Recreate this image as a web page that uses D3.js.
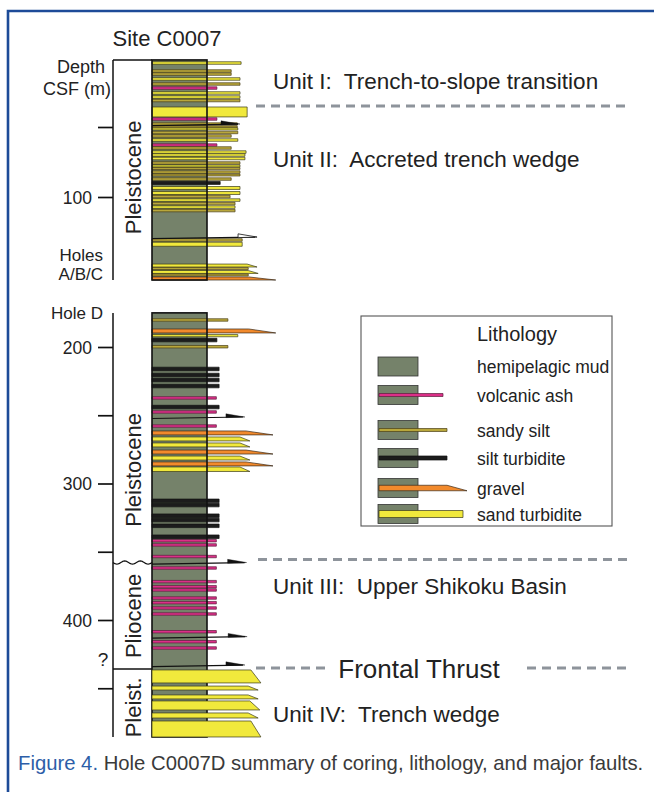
<!DOCTYPE html>
<html lang="en">
<head>
<meta charset="utf-8">
<title>Site C0007</title>
<script src="https://cdn.jsdelivr.net/npm/d3@7"></script>
<style>
  body { margin: 0; background: #fff; }
  svg { display: block; font-family: "Liberation Sans", Arial, sans-serif; }
  text { white-space: pre; }
</style>
</head>
<body>
<script>

  var W = 654, H = 792;

  // depth ticks (m CSF), labelled every 100 m
  var ticksABC = [50, 100];
  var ticksD = [200, 250, 300, 350, 400, 450];

  // cored intervals [top, bottom] in m CSF
  var rangeABC = [2.1, 159.3];
  var rangeD = [175, 485.7];

  // beds: [top depth (m), thickness (m), lithology, reach (in mud-column widths)]
  var bedsABC = [
    [3.4, 1.8, "sand", 1.62],
    [9.1, 1.8, "sandySilt", 1.44],
    [11.3, 1.8, "sandySilt", 1.44],
    [14.8, 1.8, "sand", 1.6],
    [18.4, 1.8, "sandySilt", 1.6],
    [21.3, 1.8, "ash", 1.18],
    [24.8, 1.8, "sand", 1.6],
    [27.7, 1.8, "sand", 1.6],
    [30.2, 1.8, "sandySilt", 1.6],
    [35.7, 7.1, "sand", 1.73],
    [43.4, 1.8, "ash", 1.18],
    [47.0, 1.8, "sandySilt", 1.55],
    [49.3, 1.4, "sandySilt", 1.55],
    [50.7, 1.4, "sand", 1.56],
    [53.0, 1.8, "sandySilt", 1.56],
    [55.5, 1.8, "sandySilt", 1.44],
    [58.4, 1.8, "sand", 1.56],
    [62.0, 1.8, "ash", 1.18],
    [64.1, 1.8, "sandySilt", 1.44],
    [67.0, 1.8, "sand", 1.71],
    [69.1, 1.8, "sand", 1.69],
    [71.6, 1.8, "sand", 1.69],
    [74.8, 1.8, "sandySilt", 1.6],
    [77.1, 1.4, "sand", 1.6],
    [78.9, 1.4, "sandySilt", 1.6],
    [81.3, 1.8, "sandySilt", 1.6],
    [83.6, 1.4, "sandySilt", 1.6],
    [86.3, 1.8, "sandySilt", 1.44],
    [88.9, 2.1, "siltTurb", 1.24],
    [92.5, 2.1, "sand", 1.6],
    [96.1, 2.1, "sand", 1.6],
    [98.8, 1.8, "sandySilt", 1.42],
    [101.3, 1.8, "sand", 1.6],
    [103.8, 1.8, "sandySilt", 1.51],
    [106.3, 1.8, "sand", 1.51],
    [108.8, 1.8, "sandySilt", 1.51],
    [129.8, 1.8, "sandySilt", 1.64],
    [132.3, 2.9, "sand", 1.64],
    [147.9, 2.1, "sandPinch", 1.91],
    [150.4, 1.4, "sandySilt", 1.75],
    [152.5, 2.1, "sandPinch", 1.93],
    [155.0, 1.4, "sandySilt", 1.75],
    [157.1, 2.2, "gravel", 2.25]
  ];

  var bedsD = [
    [179.3, 1.8, "sandySilt", 1.38],
    [186.8, 2.9, "gravel", 2.25],
    [190.9, 1.6, "sand", 1.56],
    [193.6, 2.6, "siltTurb", 1.18],
    [198.9, 1.8, "sandySilt", 1.38],
    [214.8, 2.6, "siltTurb", 1.22],
    [219.2, 2.6, "siltTurb", 1.22],
    [222.9, 2.6, "siltTurb", 1.22],
    [227.3, 2.6, "siltTurb", 1.22],
    [236.4, 1.8, "ash", 1.17],
    [242.7, 2.6, "siltTurb", 1.22],
    [246.7, 1.8, "ash", 1.17],
    [257.0, 1.8, "ash", 1.17],
    [261.5, 2.9, "gravel", 2.2],
    [265.9, 2.9, "sandPinch", 1.78],
    [270.3, 2.9, "sandPinch", 1.78],
    [275.5, 2.9, "gravel", 2.2],
    [279.9, 2.9, "sandPinch", 1.78],
    [284.2, 2.9, "gravel", 2.2],
    [287.9, 3.3, "sandPinch", 1.78],
    [311.4, 2.6, "siltTurb", 1.22],
    [314.5, 2.6, "siltTurb", 1.22],
    [322.3, 2.6, "siltTurb", 1.22],
    [325.5, 2.6, "siltTurb", 1.22],
    [329.7, 2.6, "siltTurb", 1.22],
    [337.7, 2.6, "siltTurb", 1.22],
    [341.0, 1.8, "ash", 1.17],
    [344.1, 1.8, "ash", 1.17],
    [352.6, 1.8, "ash", 1.17],
    [361.0, 1.8, "ash", 1.17],
    [371.0, 1.8, "ash", 1.17],
    [374.7, 1.8, "ash", 1.17],
    [377.1, 1.8, "ash", 1.17],
    [383.0, 1.8, "ash", 1.17],
    [386.4, 1.8, "ash", 1.17],
    [390.3, 1.8, "ash", 1.17],
    [394.7, 1.8, "ash", 1.17],
    [407.7, 1.8, "ash", 1.17],
    [415.0, 1.8, "ash", 1.17],
    [419.6, 1.8, "ash", 1.17],
    [436.6, 9.5, "sandPinch", 1.98],
    [448.4, 2.9, "sandPinch", 1.93],
    [454.9, 2.9, "sandPinch", 1.93],
    [459.3, 6.6, "sandPinch", 1.96],
    [468.1, 3.7, "sandPinch", 1.93],
    [474.0, 11.7, "sandPinch", 1.98]
  ];

  // faults: [depth (m), reach of arrow tip]
  var faultsABC = [[47.9, 1.6], [128.6, 1.91]];
  var faultsD = [[251.3, 1.69], [357.9, 1.72], [412.2, 1.73], [433.0, 1.69]];

  // ages: [name, top, bottom, label depth, upper contact]
  var agesABC = [["Pleistocene", 2.1, 159.3, 86, "top"]];
  var agesD = [
    ["Pleistocene", 175, 357.9, 290, "none"],
    ["Pliocene", 357.9, 435.9, 397, "wavy"],
    ["Pleist.", 435.9, 485.7, 464, "query"]
  ];

  // lithologic units: [label, depth of label baseline, log]
  var unitLabels = [
    ["Unit I:  Trench-to-slope transition", 22.9, "ABC"],
    ["Unit II:  Accreted trench wedge", 78.6, "ABC"],
    ["Unit III:  Upper Shikoku Basin", 381, "D"],
    ["Unit IV:  Trench wedge", 474.5, "D"]
  ];
  // unit boundaries (m)
  var boundaryABC = 35;
  var boundaryD = 355.7;
  var frontalThrust = 435.2;

  var legendNames = ["hemipelagic mud", "volcanic ash", "sandy silt", "silt turbidite", "gravel", "sand turbidite"];
  var legendTypes = ["mud", "ash", "sandySilt", "siltTurb", "gravel", "sand"];

  var fills = {
    mud: "#75826a", ash: "#dc2f88", sandySilt: "#b9a73b", siltTurb: "#1c1c1c",
    gravel: "#f28a2c", sand: "#f1e93c", sandPinch: "#f1e93c"
  };
  var strokes = {
    mud: "#333", ash: "#5a1f3c", sandySilt: "#4a3f17", siltTurb: "#111",
    gravel: "#3a2a1a", sand: "#3a3a1a", sandPinch: "#3a3a1a"
  };
  var ink = "#222";

  var svg = d3.select("body")
    .append("svg")
    .attr("width", W)
    .attr("height", H);

  // blue frame (top and left)
  svg.append("path")
    .attr("d", "M8," + H + " V11 H" + W)
    .attr("fill", "none")
    .attr("stroke", "#1d4b98")
    .attr("stroke-width", 2.6);

  var yABC = d3.scaleLinear().domain([0, 150]).range([57, 267]);
  var yD = d3.scaleLinear().domain([200, 400]).range([347, 620]);
  var xr = d3.scaleLinear().domain([0, 1]).range([152, 207]);
  var ageX = 113;

  function bedPath(b, y) {
    var t = y(b[0]);
    var h = Math.max(y(b[0] + b[1]) - t, 1.4);
    var bt = t + h, x0 = xr(0), xe = xr(b[3]);
    if (b[2] === "gravel") return "M" + x0 + "," + t + "H" + (xe - 27) + "L" + xe + "," + bt + "H" + x0 + "Z";
    if (b[2] === "sandPinch") return "M" + x0 + "," + t + "H" + (xe - 10) + "L" + xe + "," + bt + "H" + x0 + "Z";
    return "M" + x0 + "," + t + "H" + xe + "V" + bt + "H" + x0 + "Z";
  }

  function drawLog(y, range, beds, faults, ages, ticks) {
    var g = svg.append("g");
    var top = y(range[0]), bot = y(range[1]);

    g.append("rect")
      .attr("x", xr(0)).attr("y", top)
      .attr("width", xr(1) - xr(0)).attr("height", bot - top)
      .attr("fill", fills.mud);

    function addBeds(list) {
      g.selectAll(null)
        .data(list)
        .enter().append("path")
        .attr("d", function(b) { return bedPath(b, y); })
        .attr("fill", function(b) { return fills[b[2]]; })
        .attr("stroke", function(b) { return strokes[b[2]]; })
        .attr("stroke-width", 0.7);
    }

    addBeds(beds.filter(function(b) { return b[0] < frontalThrust; }));

    // column outline
    g.append("rect")
      .attr("x", xr(0)).attr("y", top)
      .attr("width", xr(1) - xr(0)).attr("height", bot - top)
      .attr("fill", "none").attr("stroke", "#111").attr("stroke-width", 1.6);

    // trench wedge sands drawn over the outline
    addBeds(beds.filter(function(b) { return b[0] >= frontalThrust; }));

    // faults
    faults.forEach(function(f, i) {
      var fy = y(f[0]), tip = xr(f[1]);
      var open = (y === yABC && i === faults.length - 1);
      g.append("line")
        .attr("x1", xr(0)).attr("y1", fy + 1.5)
        .attr("x2", tip - 2).attr("y2", fy)
        .attr("stroke", "#111").attr("stroke-width", 1.2);
      g.append("path")
        .attr("d", "M" + (tip - 19) + "," + (fy - 3.2) + "L" + tip + "," + fy + "L" + (tip - 19) + "," + (fy + 0.6) + "Z")
        .attr("fill", open ? "#fff" : "#111")
        .attr("stroke", "#111").attr("stroke-width", open ? 0.8 : 0.4);
    });

    // depth axis
    var axis = d3.axisLeft(y)
      .tickValues(ticks)
      .tickSize(15)
      .tickPadding(6)
      .tickFormat(function(d) { return d % 100 === 0 ? d : ""; });
    var ag = g.append("g")
      .attr("transform", "translate(" + ageX + ",0)")
      .call(axis);
    ag.select(".domain").remove();
    ag.selectAll(".tick line").attr("stroke", "#111").attr("stroke-width", 1.7);
    ag.selectAll(".tick text")
      .attr("font-family", "Liberation Sans, Arial, sans-serif")
      .attr("font-size", 17.5)
      .attr("fill", ink)
      .attr("dy", "0.36em");

    g.append("line")
      .attr("x1", ageX).attr("x2", ageX)
      .attr("y1", top).attr("y2", bot)
      .attr("stroke", "#111").attr("stroke-width", 1.5);

    // ages
    ages.forEach(function(a) {
      var ty = y(a[1]);
      if (a[4] === "top" || a[4] === "query") {
        g.append("line")
          .attr("x1", ageX).attr("x2", xr(0))
          .attr("y1", ty).attr("y2", ty)
          .attr("stroke", "#111").attr("stroke-width", 1.5);
      }
      if (a[4] === "query") {
        g.append("text")
          .attr("x", ageX - 10).attr("y", ty - 3)
          .attr("text-anchor", "middle")
          .attr("font-size", 19).attr("fill", ink)
          .text("?");
      }
      if (a[4] === "wavy") {
        var pts = d3.range(0, 41).map(function(i) {
          return [ageX + (xr(0) - ageX) * i / 40, ty + 1.6 * Math.sin(i / 40 * Math.PI * 5)];
        });
        g.append("path")
          .attr("d", d3.line()(pts))
          .attr("fill", "none").attr("stroke", "#111").attr("stroke-width", 1.2);
      }
      g.append("text")
        .attr("transform", "translate(" + (ageX + 20.5) + "," + y(a[3]) + ") rotate(-90)")
        .attr("text-anchor", "middle")
        .attr("dominant-baseline", "central")
        .attr("font-size", 22).attr("fill", ink)
        .text(a[0]);
    });
  }

  drawLog(yABC, rangeABC, bedsABC, faultsABC, agesABC, ticksABC);
  drawLog(yD, rangeD, bedsD, faultsD, agesD, ticksD);

  // headers
  svg.append("text").attr("x", 167).attr("y", 46).attr("text-anchor", "middle")
    .attr("font-size", 22).attr("fill", ink).text("Site C0007");
  svg.append("text").attr("x", 105).attr("y", 73).attr("text-anchor", "end")
    .attr("font-size", 18).attr("fill", ink).text("Depth");
  svg.append("text").attr("x", 111).attr("y", 95).attr("text-anchor", "end")
    .attr("font-size", 18).attr("fill", ink).text("CSF (m)");
  svg.append("text").attr("x", 103).attr("y", 261).attr("text-anchor", "end")
    .attr("font-size", 17).attr("fill", ink).text("Holes");
  svg.append("text").attr("x", 103).attr("y", 280).attr("text-anchor", "end")
    .attr("font-size", 17).attr("fill", ink).text("A/B/C");
  svg.append("text").attr("x", 103).attr("y", 319).attr("text-anchor", "end")
    .attr("font-size", 17).attr("fill", ink).text("Hole D");

  // unit boundaries
  function dashed(x1, x2, yy) {
    svg.append("line")
      .attr("x1", x1).attr("x2", x2).attr("y1", yy).attr("y2", yy)
      .attr("stroke", "#8e949b").attr("stroke-width", 3)
      .attr("stroke-dasharray", "9,6");
  }
  dashed(256, 628, yABC(boundaryABC));
  dashed(258, 628, yD(boundaryD));
  dashed(256, 331, yD(frontalThrust));
  dashed(527, 628, yD(frontalThrust));

  svg.append("text")
    .attr("x", 419).attr("y", yD(frontalThrust) + 9.5)
    .attr("text-anchor", "middle")
    .attr("font-size", 26).attr("fill", ink)
    .text("Frontal Thrust");

  svg.selectAll(".unit")
    .data(unitLabels)
    .enter().append("text")
    .attr("class", "unit")
    .attr("x", 273)
    .attr("y", function(d) { return (d[2] === "ABC" ? yABC : yD)(d[1]); })
    .attr("font-size", 22.5).attr("fill", ink)
    .text(function(d) { return d[0]; });

  // legend
  var lg = svg.append("g");
  lg.append("rect")
    .attr("x", 361).attr("y", 316).attr("width", 251).attr("height", 210)
    .attr("fill", "#fff").attr("stroke", "#555").attr("stroke-width", 1.1);
  lg.append("text").attr("x", 477).attr("y", 341)
    .attr("font-size", 20).attr("fill", ink).text("Lithology");

  var rowY = d3.scaleOrdinal().domain(legendTypes).range([366.5, 395, 430, 458, 488, 514]);
  var reachL = {ash: 443, sandySilt: 447, siltTurb: 447, gravel: 467, sand: 463};
  var barH = {ash: 3, sandySilt: 3, siltTurb: 4, gravel: 5.5, sand: 7};

  legendTypes.forEach(function(t, i) {
    var cy = rowY(t);
    lg.append("rect")
      .attr("x", 378).attr("y", cy - 9.5).attr("width", 40).attr("height", 19)
      .attr("fill", fills.mud).attr("stroke", "#333").attr("stroke-width", 0.8);
    if (t !== "mud") {
      var h = barH[t], x0 = 379, xe = reachL[t];
      var d = t === "gravel"
        ? "M" + x0 + "," + (cy - h / 2) + "H" + (xe - 20) + "L" + xe + "," + (cy + h / 2) + "H" + x0 + "Z"
        : "M" + x0 + "," + (cy - h / 2) + "H" + xe + "V" + (cy + h / 2) + "H" + x0 + "Z";
      lg.append("path").attr("d", d)
        .attr("fill", fills[t]).attr("stroke", strokes[t]).attr("stroke-width", 0.7);
    }
    lg.append("text")
      .attr("x", 477).attr("y", cy + 6.5)
      .attr("font-size", 17.5).attr("fill", ink)
      .text(legendNames[i]);
  });

  // caption
  var cap = svg.append("text").attr("x", 18).attr("y", 770).attr("font-size", 20.3);
  cap.append("tspan").attr("fill", "#2d5ea8").text("Figure 4.");
  cap.append("tspan").attr("fill", "#3a3a3a").text(" Hole C0007D summary of coring, lithology, and major faults.");

</script>
</body>
</html>
